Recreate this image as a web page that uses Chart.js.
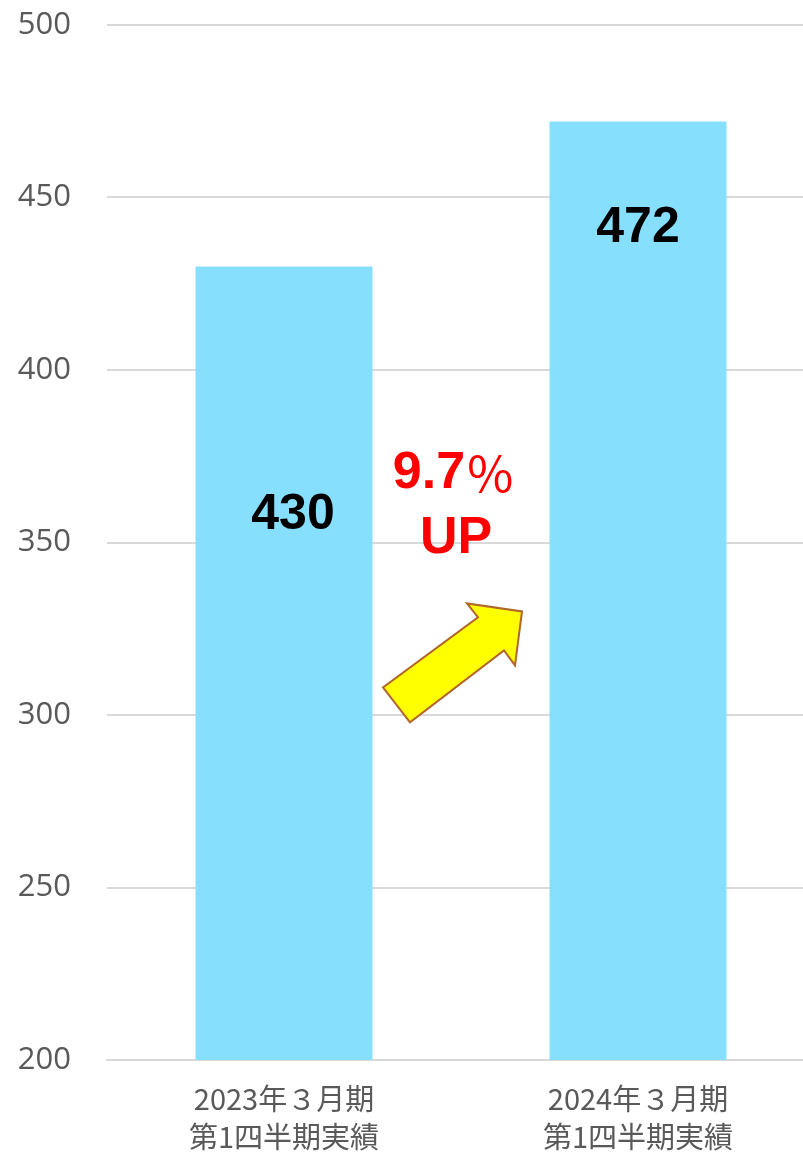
<!DOCTYPE html>
<html>
<head>
<meta charset="utf-8">
<script src="https://cdn.jsdelivr.net/npm/chart.js@4/dist/chart.umd.min.js"></script>
<style>
  html, body { margin: 0; padding: 0; background: #fff; overflow: hidden; }
  #wrap { position: relative; width: 815px; height: 1156px; }
</style>
</head>
<body>
<div id="wrap"><canvas id="bar_chart"></canvas></div>
<script>
// data
const categories = [
    ["2023年３月期", "第1四半期実績"],
    ["2024年３月期", "第1四半期実績"],
];
const sales = [430, 472];
const yTicks = [200, 250, 300, 350, 400, 450, 500];
const growthNum = "9.7";
const growthPct = "％";
const growthWord = "UP";

const ctx = document.getElementById("bar_chart").getContext("2d");

// value labels inside bars + the "9.7% UP" note and yellow arrow
const notesPlugin = {
    id: "notes",
    afterDatasetsDraw(chart, args, opts) {
        const c = chart.ctx;
        const x = chart.scales.x;
        const y = chart.scales.y;
        const meta = chart.getDatasetMeta(0);

        c.save();
        c.textBaseline = "middle";

        // numbers in the bars
        c.textAlign = "center";
        c.fillStyle = "#000";
        c.font = "bold 50px 'Liberation Sans', Arial, sans-serif";
        meta.data.forEach((bar, i) => {
            c.fillText(String(sales[i]), bar.x + opts.labelShift[i], y.getPixelForValue(opts.labelAt[i]));
        });

        // arrow between the bars
        const mid = (x.getPixelForValue(0) + x.getPixelForValue(1)) / 2;
        const ay = y.getPixelForValue(opts.arrowAt);
        const pts = [
            [-78, 0], [-51, 35], [43, -37], [54, -22], [61, -76],
            [6, -84], [17, -70],
        ];
        c.beginPath();
        pts.forEach((p, i) => {
            const px = mid + p[0], py = ay + p[1];
            if (i === 0) c.moveTo(px, py); else c.lineTo(px, py);
        });
        c.closePath();
        c.fillStyle = "#FFFF00";
        c.fill();
        c.lineWidth = 2;
        c.strokeStyle = "#B0662A";
        c.lineJoin = "miter";
        c.stroke();

        // growth text: bold number, thin full-width percent sign
        c.fillStyle = "#FF0000";
        const numFont = "bold 52px 'Liberation Sans', Arial, sans-serif";
        const pctFont = "50px 'Noto Sans CJK JP', sans-serif";
        c.font = numFont;
        const wNum = c.measureText(growthNum).width;
        c.font = pctFont;
        const wPct = c.measureText(growthPct).width;
        const left = mid - 7 - (wNum + wPct) / 2;
        const ty = y.getPixelForValue(opts.textAt[0]);
        c.textAlign = "left";
        c.font = numFont;
        c.fillText(growthNum, left, ty);
        c.font = pctFont;
        c.fillText(growthPct, left + wNum, ty);
        c.textAlign = "center";
        c.font = numFont;
        c.fillText(growthWord, mid - 5, y.getPixelForValue(opts.textAt[1]));
        c.restore();
    },
};

new Chart(ctx, {
    type: "bar",
    data: {
        labels: categories,
        datasets: [
            {
                data: sales,
                backgroundColor: "#87DFFE",
                borderWidth: 0,
                barPercentage: 0.5,
                categoryPercentage: 1.0,
            },
        ],
    },
    options: {
        responsive: true,
        maintainAspectRatio: false,
        animation: false,
        layout: { padding: { top: 25, left: 0, right: 0, bottom: 0 } },
        plugins: {
            legend: { display: false },
            tooltip: { enabled: false },
            notes: {
                labelAt: [358, 441],
                labelShift: [9, 0],
                arrowAt: 308,
                textAt: [370, 351],
            },
        },
        scales: {
            x: {
                grid: { display: false, drawTicks: false },
                border: { display: true, color: "#D9D9D9", width: 2 },
                ticks: {
                    color: "#595959",
                    font: { family: "'Noto Sans CJK JP', sans-serif", size: 29, lineHeight: 1.3 },
                    padding: 20,
                    maxRotation: 0,
                    autoSkip: false,
                },
                afterFit: (scale) => {
                    scale.height = 96;
                    scale.paddingLeft = 0;
                    scale.paddingRight = 0;
                },
            },
            y: {
                min: 200,
                max: 500,
                afterBuildTicks: (scale) => { scale.ticks = yTicks.map((v) => ({ value: v })); },
                grid: { color: "#D9D9D9", lineWidth: 2, drawTicks: false },
                border: { display: false },
                ticks: {
                    color: "#595959",
                    font: { family: "'Open Sans', sans-serif", size: 31 },
                    padding: 36,
                },
                afterFit: (scale) => {
                    scale.width = 107;
                    scale.paddingTop = 0;
                    scale.paddingBottom = 0;
                },
            },
        },
    },
    plugins: [notesPlugin],
});
</script>
</body>
</html>
